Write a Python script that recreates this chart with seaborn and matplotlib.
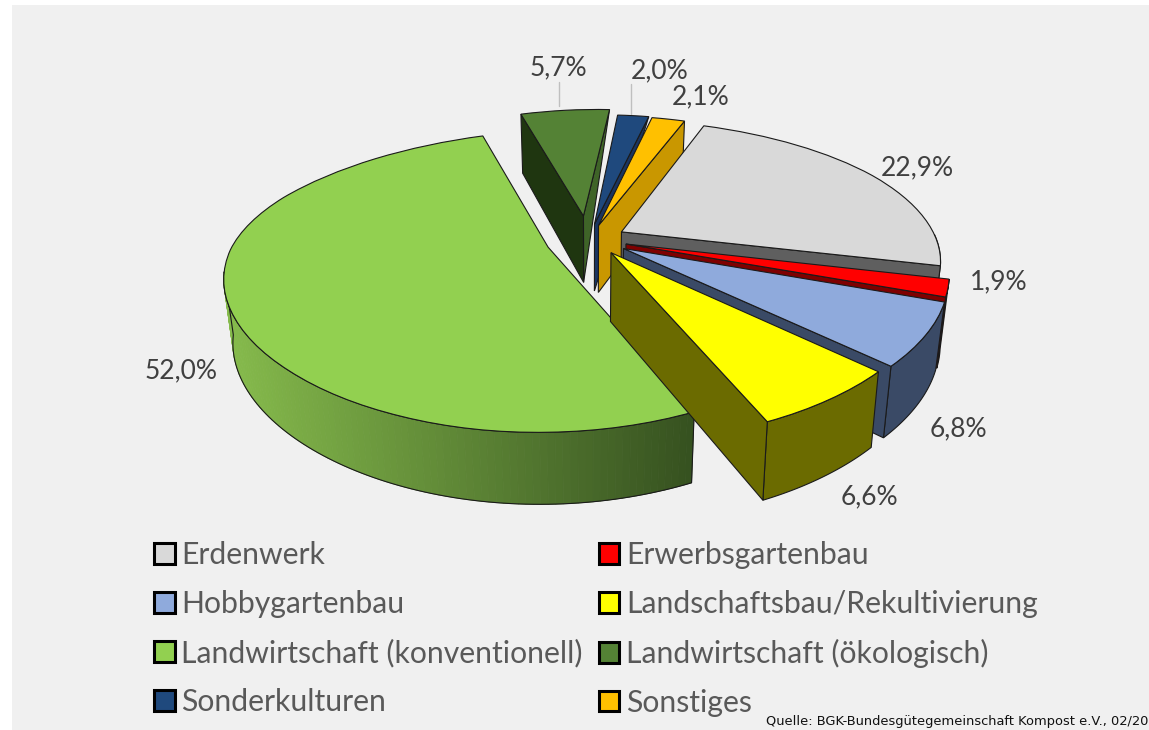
import numpy as np
import matplotlib
matplotlib.use("Agg")
import matplotlib.pyplot as plt
from matplotlib.patches import Patch, Rectangle
from matplotlib.transforms import Transform
from matplotlib.colors import to_rgb
import seaborn as sns

categories = ["Erdenwerk", "Erwerbsgartenbau", "Hobbygartenbau", "Landschaftsbau/Rekultivierung",
              "Landwirtschaft (konventionell)", "Landwirtschaft (ökologisch)", "Sonderkulturen", "Sonstiges"]
shares = [22.9, 1.9, 6.8, 6.6, 52.0, 5.7, 2.0, 2.1]
source_note = "Quelle: BGK-Bundesgütegemeinschaft Kompost e.V., 02/20"

top_colors = ["#d9d9d9", "#ff0000", "#8faadc", "#ffff00", "#92d050", "#548235", "#1f497d", "#ffc000"]
side_colors = ["#5f5f5f", "#7f0000", "#3a4a66", "#6b6b00", "#35501f", "#1f3610", "#1a3560", "#c99700"]
rim_colors = ["#5f5f5f", "#7f0000", "#3a4a66", "#6b6b00", "#35501f", "#3f6428", "#1a3560", "#c99700"]
explode = [0.116, 0.116, 0.12, 0.11, 0.14, 0.18, 0.118, 0.11]
depth_scale = [1, 1, 0.95, 1, 0.91, 1, 1, 1]
paint_order = [4, 5, 6, 7, 0, 1, 2, 3]
collapsed_walls = [5, 6]
label_xy = [(917, 168), (999, 282), (958, 429), (869, 497), (181, 371), (558, 68), (660, 71), (701, 97)]

CX, CY, A, B, D = 590.0, 240.0, 318.0, 140.0, 68.0
KX, KY, KD, TAPER = 0.14, 0.224, 0.134, 0.975
SAG, BACK_SHIFT = 7.0, 20.0
FIRST_ANGLE = 18.0


def project(xy, drop=0.0):
    xy = np.asarray(xy, float)
    x, y = xy[:, 0], xy[:, 1]
    X = CX + A * x / (1 + KX * y) + BACK_SHIFT * np.clip(y, 0, None) ** 2 * np.clip(0.4 - x, 0, None)
    Y = CY - B * y / (1 + KY * y) + SAG * x * x
    if drop:
        X = CX + (X - CX) * TAPER
        Y = Y + drop * D / (1 + KD * y)
    return np.column_stack([X, Y])


class PlanToPixel(Transform):
    input_dims = 2
    output_dims = 2
    is_separable = False
    has_inverse = False

    def transform_non_affine(self, values):
        return project(values)


sns.set_theme(style="white")
plt.rcParams["font.family"] = ["Lato", "DejaVu Sans"]
palette = sns.color_palette(top_colors)

fig = plt.figure(figsize=(11.49, 7.30), dpi=100, facecolor="white")
ax = fig.add_axes([0, 0, 1, 1])
wedges, _ = ax.pie(shares, explode=explode, colors=palette, startangle=90 - FIRST_ANGLE,
                   counterclock=False, wedgeprops=dict(edgecolor="#1a1a1a", linewidth=0.8))
ax.set_aspect("auto")
ax.set_xlim(0, 1149)
ax.set_ylim(730, 0)
ax.add_patch(Rectangle((12, 5), 1137, 725, facecolor="#f0f0f0", edgecolor="none", zorder=0))

plan = PlanToPixel()
edge = dict(edgecolor="#1a1a1a", linewidth=0.8)
for rank, i in enumerate(paint_order):
    w = wedges[i]
    z = 10 + 2 * rank
    w.set_transform(plan + ax.transData)
    w.set_zorder(z + 1)
    c = np.array(w.center)
    th = np.radians(np.linspace(w.theta1, w.theta2, 160))
    arc = c + w.r * np.column_stack([np.cos(th), np.sin(th)])
    drop = depth_scale[i]
    arc_t, arc_b = project(arc), project(arc, drop=drop)
    apex_t, apex_b = project(c[None]), project(c[None], drop=drop)
    mid = arc_t[len(th) // 2]

    # outer rim: only the part that faces the viewer
    front = np.sin(th) < -0.1 if i == 4 else np.sin(th) < 0.05
    if front.sum() > 1:
        rt, rb = arc_t[front], arc_b[front]
        if i == 4:
            light, dark = np.array(to_rgb("#86bb4c")), np.array(to_rgb(rim_colors[i]))
            frac = (rt[:, 0] - rt[:, 0].min()) / np.ptp(rt[:, 0])
            for k in range(len(rt) - 1):
                col = light + (dark - light) * frac[k]
                strip = np.vstack([rt[k:k + 2], rb[k:k + 2][::-1]])
                ax.fill(strip[:, 0], strip[:, 1], facecolor=col, edgecolor=col, linewidth=0.6, zorder=z)
            outline = np.vstack([rt, rb[::-1]])
            ax.fill(outline[:, 0], outline[:, 1], facecolor="none", zorder=z, **edge)
        else:
            outline = np.vstack([rt, rb[::-1]])
            ax.fill(outline[:, 0], outline[:, 1], facecolor=rim_colors[i], zorder=z, **edge)

    # radial walls: only those hanging below the slice's top face
    for end, col in ((0, rim_colors[i]), (-1, side_colors[i])):
        p, e = apex_t[0], arc_t[end]
        if abs(e[0] - p[0]) < 1e-6:
            continue
        line_y = p[1] + (e[1] - p[1]) * (mid[0] - p[0]) / (e[0] - p[0])
        if mid[1] >= line_y:
            continue
        if i in collapsed_walls and end == 0:
            quad = np.vstack([apex_t, arc_t[end], apex_b])
        else:
            quad = np.vstack([apex_t, arc_t[end], arc_b[end], apex_b])
        ax.fill(quad[:, 0], quad[:, 1], facecolor=col, zorder=z, **edge)

# leader lines and value labels
ax.plot([559, 559], [82, 106], color="#bfbfbf", lw=1, zorder=5)
ax.plot([631, 631], [84, 116], color="#bfbfbf", lw=1, zorder=5)
for v, (x, y) in zip(shares, label_xy):
    ax.text(x, y, f"{v:.1f}%".replace(".", ","), ha="center", va="center",
            fontsize=19, color="#404040", zorder=40)

handles = [Patch(facecolor=palette[i], edgecolor="black", linewidth=2.2, label=categories[i]) for i in range(8)]
columnwise = handles[0::2] + handles[1::2]
ax.legend(handles=columnwise, ncols=2, frameon=False, loc="upper left",
          bbox_to_anchor=(148 / 1149, 1 - 535 / 730), fontsize=21.7, labelcolor="#595959",
          handlelength=0.68, handleheight=0.68, handletextpad=0.23, columnspacing=0.53,
          labelspacing=0.69, borderaxespad=0, borderpad=0.2)
ax.text(1148, 722, source_note, ha="right", va="center", fontsize=9.4,
        family="DejaVu Sans", color="#111111", zorder=40)
fig.savefig("out.png", dpi=100, facecolor="white")
